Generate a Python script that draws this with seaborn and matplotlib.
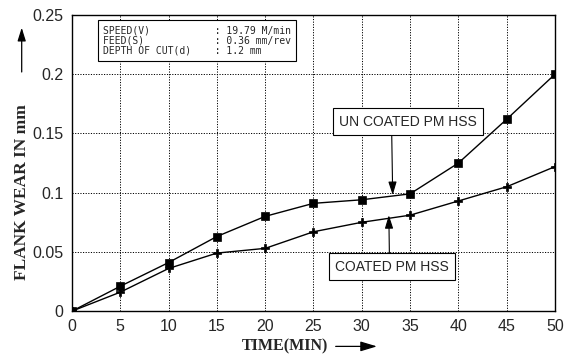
import matplotlib
matplotlib.use("Agg")
import matplotlib.pyplot as plt
import seaborn as sns
import pandas as pd

time_min = [0, 5, 10, 15, 20, 25, 30, 35, 40, 45, 50]
uncoated = [0.0, 0.021, 0.041, 0.063, 0.080, 0.091, 0.094, 0.099, 0.125, 0.162, 0.200]
coated = [0.0, 0.016, 0.036, 0.049, 0.053, 0.067, 0.075, 0.081, 0.093, 0.105, 0.122]
x_ticks = [0, 5, 10, 15, 20, 25, 30, 35, 40, 45, 50]
y_ticks = [0, 0.05, 0.1, 0.15, 0.2, 0.25]
y_tick_labels = ["0", "0.05", "0.1", "0.15", "0.2", "0.25"]

sns.set_style("white")
plt.rcParams['font.family'] = ['Liberation Sans', 'DejaVu Sans']

df = pd.DataFrame({
    "time": time_min * 2,
    "wear": uncoated + coated,
    "tool": ["UN COATED PM HSS"] * len(time_min) + ["COATED PM HSS"] * len(time_min),
})

fig = plt.figure(figsize=(5.71, 3.56), dpi=100)
ax = fig.add_axes([0.126, 0.126, 0.846, 0.832])

sns.lineplot(data=df, x="time", y="wear", hue="tool", style="tool",
             palette=["black", "black"], markers={"UN COATED PM HSS": "s", "COATED PM HSS": "P"},
             dashes=False, linewidth=1.0, markersize=6, markeredgecolor='black',
             markeredgewidth=0.5, legend=False, ax=ax, zorder=3)

ax.set_xlim(0, 50)
ax.set_ylim(0, 0.25)
ax.set_xticks(x_ticks)
ax.set_xticklabels([str(t) for t in x_ticks])
ax.set_yticks(y_ticks)
ax.set_yticklabels(y_tick_labels)
ax.tick_params(axis='both', labelsize=11.5, length=5, width=0.8, color='black', direction='out', pad=1)
ax.grid(True, linestyle=(0, (1.2, 1.5)), color='black', linewidth=0.7)
for s in ax.spines.values():
    s.set_color('black')
    s.set_linewidth(1.0)
ax.set_xlabel("")
ax.set_ylabel("")

# info box
info = ("SPEED(V)           : 19.79 M/min\n"
        "FEED(S)            : 0.36 mm/rev\n"
        "DEPTH OF CUT(d)    : 1.2 mm")
ax.text(3.2, 0.241, info, family='DejaVu Sans Mono', fontsize=7.0, va='top', ha='left',
        linespacing=1.0, zorder=5,
        bbox=dict(boxstyle='square,pad=0.55', facecolor='white', edgecolor='black', linewidth=0.8))

# annotations
ax.annotate("UN COATED PM HSS", xy=(33.2, 0.098), xytext=(34.8, 0.160),
            ha='center', va='center', fontsize=10, zorder=5,
            bbox=dict(boxstyle='square,pad=0.45', facecolor='white', edgecolor='black', linewidth=0.8),
            arrowprops=dict(arrowstyle='-|>,head_length=0.8,head_width=0.25', color='black', lw=0.8,
                            shrinkA=0, shrinkB=0, relpos=(0.38, 0.0)))
ax.annotate("COATED PM HSS", xy=(32.8, 0.081), xytext=(33.1, 0.0376),
            ha='center', va='center', fontsize=10, zorder=5,
            bbox=dict(boxstyle='square,pad=0.45', facecolor='white', edgecolor='black', linewidth=0.8),
            arrowprops=dict(arrowstyle='-|>,head_length=0.8,head_width=0.25', color='black', lw=0.8,
                            shrinkA=0, shrinkB=0, relpos=(0.48, 1.0)))

# axis labels with arrows
fig.text(0.038, 0.46, "FLANK WEAR IN mm", rotation=90, ha='center', va='center',
         family=['Liberation Serif', 'DejaVu Serif'], fontweight='bold', fontsize=12.5)
ax.annotate("", xy=(0.038, 0.93), xytext=(0.038, 0.79), xycoords='figure fraction',
            arrowprops=dict(arrowstyle='-|>,head_length=0.8,head_width=0.25', color='black', lw=0.9))
fig.text(0.50, 0.027, "TIME(MIN)", ha='center', va='center',
         family=['Liberation Serif', 'DejaVu Serif'], fontweight='bold', fontsize=11.5)
ax.annotate("", xy=(0.665, 0.027), xytext=(0.583, 0.027), xycoords='figure fraction',
            arrowprops=dict(arrowstyle='-|>,head_length=1.0,head_width=0.3', color='black', lw=0.9,
                            facecolor='#888888'))

fig.savefig("out.png", dpi=100)
